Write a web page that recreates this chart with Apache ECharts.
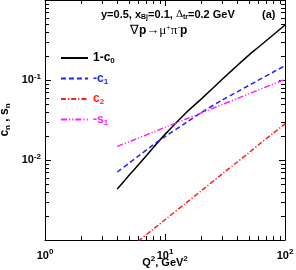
<!DOCTYPE html>
<html>
<head>
<meta charset="utf-8">
<script src="https://cdn.jsdelivr.net/npm/echarts@6/dist/echarts.min.js"></script>
<style>html,body{margin:0;padding:0;background:#fff;}#c{width:296px;height:270px;}</style>
</head>
<body>
<div id="c"></div>
<script>
// ---- data ----
var q2 = [4, 5, 6, 8, 10, 15, 20, 30, 40, 50, 60, 80, 100];
var oneMinusC0 = [0.00434, 0.00638, 0.00871, 0.0143, 0.0209, 0.039, 0.0577, 0.102, 0.152, 0.205, 0.257, 0.368, 0.487];
var minusC1 = [0.00708, 0.0091, 0.0112, 0.0155, 0.0196, 0.0293, 0.0391, 0.0562, 0.0712, 0.0856, 0.0994, 0.126, 0.151];
var minusS1 = [0.0148, 0.0168, 0.0188, 0.0223, 0.0256, 0.0326, 0.0387, 0.0494, 0.0587, 0.0672, 0.075, 0.0891, 0.102];
var q2c2 = [6, 8, 10, 15, 20, 30, 40, 50, 60, 80, 100];
var c2 = [0.00097, 0.00137, 0.00179, 0.00291, 0.00411, 0.0067, 0.00944, 0.0123, 0.0154, 0.0217, 0.0283];
var seriesNames = ['1-c0', '-c1', 'c2', '-s1'];
var legendLabels = ['1-c{s|0}', '-c{s|1}', 'c{s|2}', '-s{s|1}'];
var xTickLabels = {1: '10{p|0}', 10: '10{p|1}', 100: '10{p|2}'};
var yTickLabels = {'0.1': '10{p|-1}', '0.01': '10{p|-2}'};

function pairs(xs, ys) { return xs.map(function (x, i) { return [x, ys[i]]; }); }

var FONT = 'Liberation Sans';
var colors = ['#000000', '#1f1fff', '#ff1f1f', '#ff1fff'];
var X_MIN = 1, X_MAX = 100, Y_MIN = 0.001, Y_MAX = 1;

var chart = echarts.init(document.getElementById('c'), null, {renderer: 'canvas'});

function axisCommon() {
  return {
    axisLine: {show: true, lineStyle: {color: '#000', width: 1}},
    axisTick: {show: true, inside: true, length: 6, lineStyle: {color: '#000', width: 1}},
    splitLine: {show: false},
    minorTick: {show: false}
  };
}

var textLines = [
  {type: 'text', left: 101, top: 9, style: {
    text: 'y=0.5, x{s|Bj}=0.1, {g|Δ}{s|tr}=0.2 GeV',
    font: 'bold 11px "Liberation Sans"', fill: '#000',
    rich: {s: {font: 'bold 7px "Liberation Sans"', padding: [5, 0, 0, 0], fill: '#000'},
           g: {font: '11px "Liberation Serif"', fill: '#000'}}}},
  {type: 'text', left: 262, top: 9, style: {text: '(a)', font: 'bold 11px "Liberation Sans"', fill: '#000'}},
  {type: 'text', left: 130, top: 24, style: {
    text: '{y|∇}p{y|→μ}{u|+}{y|π}{u|-}p',
    font: 'bold 12px "Liberation Sans"', fill: '#000',
    rich: {y: {font: '13px "Liberation Serif"', fill: '#000'},
           u: {font: '8px "Liberation Serif"', padding: [0, 0, 6, 0], fill: '#000'}}}}
];

var option = {
  animation: false,
  backgroundColor: '#fff',
  textStyle: {fontFamily: FONT},
  grid: {left: 45, right: 11, top: 0, bottom: 30, containLabel: false, outerBoundsMode: 'none'},
  legend: {
    orient: 'vertical', left: 55, top: 47, itemWidth: 27, itemHeight: 10, itemGap: 7.5,
    data: seriesNames.map(function (n, i) {
      return {name: n, itemStyle: {opacity: 0}, textStyle: {color: colors[i], rich: {s: {fontSize: 8, color: colors[i], fontWeight: 'bold', padding: [6, 0, 0, 0]}}}};
    }),
    formatter: function (n) { return legendLabels[seriesNames.indexOf(n)]; },
    textStyle: {fontFamily: FONT, fontWeight: 'bold', fontSize: 12}
  },
  xAxis: [
    Object.assign({}, axisCommon(), {
      type: 'log', logBase: 10, min: X_MIN, max: X_MAX, position: 'bottom',
      axisLabel: {margin: 8, fontFamily: FONT, fontWeight: 'bold', fontSize: 11, color: '#000',
        formatter: function (v) { return xTickLabels[Math.round(v)] || ''; },
        rich: {p: {fontSize: 8, fontWeight: 'bold', padding: [0, 0, 7, 0]}}},
      name: 'Q{p|2}, GeV{p|2}', nameLocation: 'middle', nameGap: 15, nameMoveOverlap: false,
      nameTextStyle: {fontFamily: FONT, fontWeight: 'bold', fontSize: 11, color: '#000',
        rich: {p: {fontSize: 8, fontWeight: 'bold', padding: [0, 0, 7, 0]}}}
    }),
    Object.assign({}, axisCommon(), {
      type: 'log', logBase: 10, min: X_MIN, max: X_MAX, position: 'top',
      axisLabel: {show: false}
    })
  ],
  yAxis: [
    Object.assign({}, axisCommon(), {
      type: 'log', logBase: 10, min: Y_MIN, max: Y_MAX, position: 'left',
      axisLabel: {margin: 4, fontFamily: FONT, fontWeight: 'bold', fontSize: 11, color: '#000',
        formatter: function (v) { return yTickLabels[String(+v.toPrecision(3))] || ''; },
        rich: {p: {fontSize: 8, fontWeight: 'bold', padding: [0, 0, 7, 0]}}},
      name: 'c{s|n} , s{s|n}', nameLocation: 'middle', nameGap: 33, nameRotate: 90, nameMoveOverlap: false,
      nameTextStyle: {fontFamily: FONT, fontWeight: 'bold', fontSize: 12, color: '#000',
        rich: {s: {fontSize: 8, fontWeight: 'bold', padding: [6, 0, 0, 0]}}}
    }),
    Object.assign({}, axisCommon(), {
      type: 'log', logBase: 10, min: Y_MIN, max: Y_MAX, position: 'right',
      axisLabel: {show: false}
    })
  ],
  series: [
    {name: seriesNames[0], type: 'line', data: pairs(q2, oneMinusC0), showSymbol: false, symbol: 'none', smooth: 0.3,
     lineStyle: {color: colors[0], width: 1.5, type: 'solid'}, itemStyle: {color: colors[0]}},
    {name: seriesNames[1], type: 'line', data: pairs(q2, minusC1), showSymbol: false, symbol: 'none', smooth: 0.3,
     lineStyle: {color: colors[1], width: 1.5, type: [5, 3]}, itemStyle: {color: colors[1]}},
    {name: seriesNames[2], type: 'line', data: pairs(q2c2, c2), showSymbol: false, symbol: 'none', clip: true, smooth: 0.3,
     lineStyle: {color: colors[2], width: 1.5, type: [5, 2, 1.2, 2]}, itemStyle: {color: colors[2]}},
    {name: seriesNames[3], type: 'line', data: pairs(q2, minusS1), showSymbol: false, symbol: 'none', smooth: 0.3,
     lineStyle: {color: colors[3], width: 1.5, type: [6, 2, 1.2, 2, 1.2, 2]}, itemStyle: {color: colors[3]}}
  ],
  graphic: textLines
};
chart.setOption(option);

// minor log ticks on all four sides, positioned through the chart's own scales
var ticks = [];
function px(v) { return chart.convertToPixel({gridIndex: 0}, v); }
var bl = px([X_MIN, Y_MIN]), tr = px([X_MAX, Y_MAX]);
function tickRect(x, y, w, h) {
  return {type: 'rect', silent: true, z: 10, shape: {x: x, y: y, width: w, height: h}, style: {fill: '#000'}};
}
[1, 10].forEach(function (d) {
  for (var k = 2; k <= 9; k++) {
    var x = Math.round(px([k * d, Y_MIN])[0]);
    ticks.push(tickRect(x, bl[1] - 4, 1, 4));
    ticks.push(tickRect(x, tr[1], 1, 4));
  }
});
[0.001, 0.01, 0.1].forEach(function (d) {
  for (var k = 2; k <= 9; k++) {
    var y = Math.round(px([X_MIN, k * d])[1]);
    ticks.push(tickRect(bl[0], y, 4, 1));
    ticks.push(tickRect(tr[0] - 4, y, 4, 1));
  }
});
chart.setOption({graphic: textLines.concat(ticks)});
</script>
</body>
</html>
